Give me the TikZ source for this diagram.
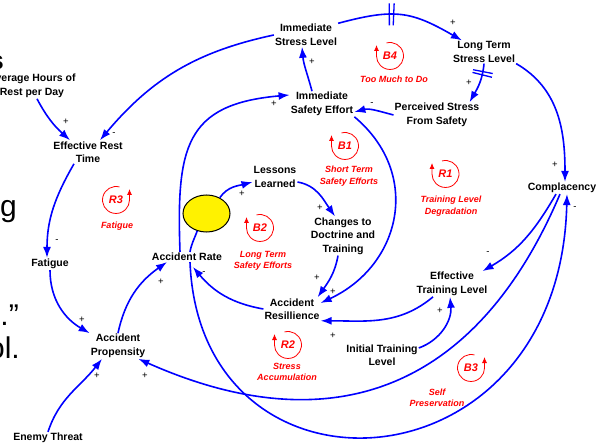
\documentclass[tikz,border=0pt]{standalone}
\usepackage{fontspec}
\setmainfont{Liberation Sans}
\usetikzlibrary{arrows.meta,shapes.geometric}

\tikzset{
  var/.style={font=\bfseries\fontsize{10.5}{13.5}\selectfont, align=center, inner sep=1pt},
  link/.style={draw=blue, line width=1.6pt, ->},
  plain/.style={draw=blue, line width=1.6pt},
  sign/.style={font=\fontsize{9.5}{11}\selectfont, inner sep=0pt},
  loopid/.style={text=red, font=\bfseries\itshape\fontsize{11}{13}\selectfont, inner sep=0pt},
  looptext/.style={text=red, font=\bfseries\itshape\fontsize{9}{11.5}\selectfont, align=center, inner sep=0pt},
  loopcirc/.style={draw=red, line width=0.8pt, -{Latex[length=6pt,width=5pt]}},
  delaybar/.style={fill=blue, inner sep=0pt, minimum width=1.3pt, minimum height=22pt, sloped},
  bigtext/.style={font=\fontsize{30}{30}\selectfont, inner sep=0pt, anchor=base east},
}
% loop marker: name, centre, start angle, end angle
\newcommand{\loopmark}[4]{%
  \node[loopid] (#1) at (#2) {#1};
  \draw[loopcirc] (#1.center) ++(#3:13.5pt) arc[start angle=#3, end angle=#4, radius=13.5pt] -- ++(0,11pt);
}

\begin{document}
\begin{tikzpicture}[>={Latex[length=11pt,width=8pt]}, x=1pt, y=1pt]
  \useasboundingbox (0,0) rectangle (597,-446);
  \clip (0,0) rectangle (597,-446);

  % slide text behind the diagram
  \node[bigtext, font=\bfseries\fontsize{26}{26}\selectfont] (frag1) at (4,-70) {s};
  \node[bigtext] (frag2) at (17,-217) {g};
  \node[bigtext] (frag3) at (19,-326) {s.”};
  \node[bigtext] (frag4) at (20,-359) {ol.};

  % variables
  \node[var] (avgrest) at (32,-86) {Average Hours of\\Rest per Day};
  \node[var] (ert) at (88,-152) {Effective Rest\\Time};
  \node[var] (fatigue) at (50,-264) {Fatigue};
  \node[var] (propensity) at (118,-346) {Accident\\Propensity};
  \node[var] (enemy) at (48,-438) {Enemy Threat};
  \node[var] (accrate) at (187,-257) {Accident Rate};
  \node[draw, ellipse, fill=yellow, line width=1pt, inner sep=0pt,
        minimum width=47pt, minimum height=37pt] (blob) at (206.5,-213.5) {};
  \node[var] (lessons) at (275,-177) {Lessons\\Learned};
  \node[var] (changes) at (343,-236) {Changes to\\Doctrine and\\Training};
  \node[var] (resil) at (292,-309) {Accident\\Resillience};
  \node[var] (isl) at (306,-35) {Immediate\\Stress Level};
  \node[var] (ltsl) at (484,-52) {Long Term\\Stress Level};
  \node[var] (ise) at (322,-104) {Immediate\\Safety Effort};
  \node[var] (perceived) at (437,-115) {Perceived Stress\\From Safety};
  \node[var] (complacency) at (562,-188) {Complacency};
  \node[var] (etl) at (452,-284) {Effective\\Training Level};
  \node[var] (itl) at (382,-355) {Initial Training\\Level};

  % links
  \draw[link] ([xshift=5pt]avgrest.south) to[out=-62,in=138] ([xshift=-18pt]ert.north);
  \draw[link] (isl.west) to[out=192,in=50] ([xshift=12pt]ert.north);
  \draw[link] ([xshift=-14pt]ert.south) to[out=240,in=90] ([xshift=-3pt]fatigue.north);
  \draw[link] (fatigue.south) to[out=-90,in=150] (propensity.north west);
  \draw[link] (enemy.north) to[out=72,in=232] ([xshift=-16pt]propensity.south);
  \draw[link] (propensity.north) to[out=78,in=215] ([xshift=-20pt]accrate.south);
  \draw[link] ([xshift=-7pt]accrate.north) to[out=92,in=185,looseness=1.4] ([yshift=9pt]ise.west);
  \draw[plain] (blob.242) to[out=-110,in=80] ([xshift=3pt]accrate.north);
  \draw[link] (blob.50) to[out=55,in=195] ([yshift=-5pt]lessons.west);
  \draw[link] ([yshift=-5pt]lessons.east) to[out=-10,in=125] ([xshift=-8pt]changes.north);
  \draw[link] ([xshift=-5pt]changes.south) to[out=-100,in=55] ([xshift=-3pt]resil.north east);
  \draw[link] (ise.south east) to[out=-40,in=25,looseness=1.2] ([yshift=6pt]resil.east);
  \draw[link] (resil.west) to[out=170,in=-50] ([xshift=6pt,yshift=-5pt]accrate.south);
  \draw[link] (perceived.west) to[out=165,in=15] ([yshift=-8pt]ise.east);
  \draw[link] ([xshift=-10pt]ise.north) to[out=105,in=-85] ([xshift=-4pt]isl.south);
  \draw[link] (isl.20) to[out=15,in=150,looseness=1.2]
    node[delaybar,pos=.38] (d1a) {} node[delaybar,pos=.42] (d1b) {} ([xshift=10pt]ltsl.north west);
  \draw[link] (ltsl.south) to[out=-95,in=60]
    node[delaybar,pos=.18,minimum height=20pt] (d2a) {} node[delaybar,pos=.26,minimum height=20pt] (d2b) {}
    ([xshift=-11pt]perceived.north east);
  \draw[link] (ltsl.south east) to[out=-30,in=90] ([xshift=3pt]complacency.north);
  \draw[link] ([xshift=-6pt]complacency.south) to[out=240,in=30] ([xshift=-6pt]etl.north east);
  \draw[link] ([xshift=-2pt]complacency.south) to[out=247,in=-24,looseness=1.2] ([xshift=-8pt]propensity.south east);
  \draw[link] ([xshift=3pt]accrate.south) .. controls (200,-515) and (560,-495) .. ([xshift=5pt]complacency.south);
  \draw[link] ([xshift=-19pt]etl.south) to[out=220,in=0] (resil.south east);
  \draw[link] ([yshift=7pt]itl.east) to[out=20,in=-85] ([xshift=-2pt]etl.south);

  % polarities
  \node[sign] (p1) at (66,-122) {+};
  \node[sign] (p2) at (114,-134) {-};
  \node[sign] (p3) at (57,-241) {-};
  \node[sign] (p4) at (82,-320) {+};
  \node[sign] (p5) at (97,-376) {+};
  \node[sign] (p6) at (161,-282) {+};
  \node[sign] (p7) at (274,-104) {+};
  \node[sign] (p8) at (204,-273) {-};
  \node[sign] (p9) at (242,-194) {+};
  \node[sign] (p10) at (320,-208) {+};
  \node[sign] (p11) at (317,-278) {+};
  \node[sign] (p12) at (333,-292) {+};
  \node[sign] (p13) at (372,-104) {-};
  \node[sign] (p14) at (312,-62) {+};
  \node[sign] (p15) at (453,-23) {+};
  \node[sign] (p16) at (469,-83) {+};
  \node[sign] (p17) at (555,-165) {+};
  \node[sign] (p18) at (488,-253) {-};
  \node[sign] (p19) at (575,-208) {-};
  \node[sign] (p20) at (145,-376) {+};
  \node[sign] (p21) at (333,-336) {+};
  \node[sign] (p22) at (440,-311) {+};

  % loops
  \loopmark{B4}{390,-56}{105}{-180}
  \node[looptext] (tb4) at (394,-79) {Too Much to Do};
  \loopmark{B1}{345,-146}{105}{-180}
  \node[looptext] (tb1) at (349,-176) {Short Term\\Safety Efforts};
  \loopmark{B2}{260,-228}{105}{-180}
  \node[looptext] (tb2) at (263,-261) {Long Term\\Safety Efforts};
  \loopmark{R3}{116,-200}{75}{360}
  \node[looptext] (tr3) at (117,-226) {Fatigue};
  \loopmark{R1}{445.5,-174}{105}{-180}
  \node[looptext] (tr1) at (451,-206) {Training Level\\Degradation};
  \loopmark{R2}{288,-345}{105}{-180}
  \node[looptext] (tr2) at (287,-372) {Stress\\Accumulation};
  \loopmark{B3}{471,-368}{75}{360}
  \node[looptext] (tb3) at (437,-398) {Self\\Preservation};
\end{tikzpicture}
\end{document}
